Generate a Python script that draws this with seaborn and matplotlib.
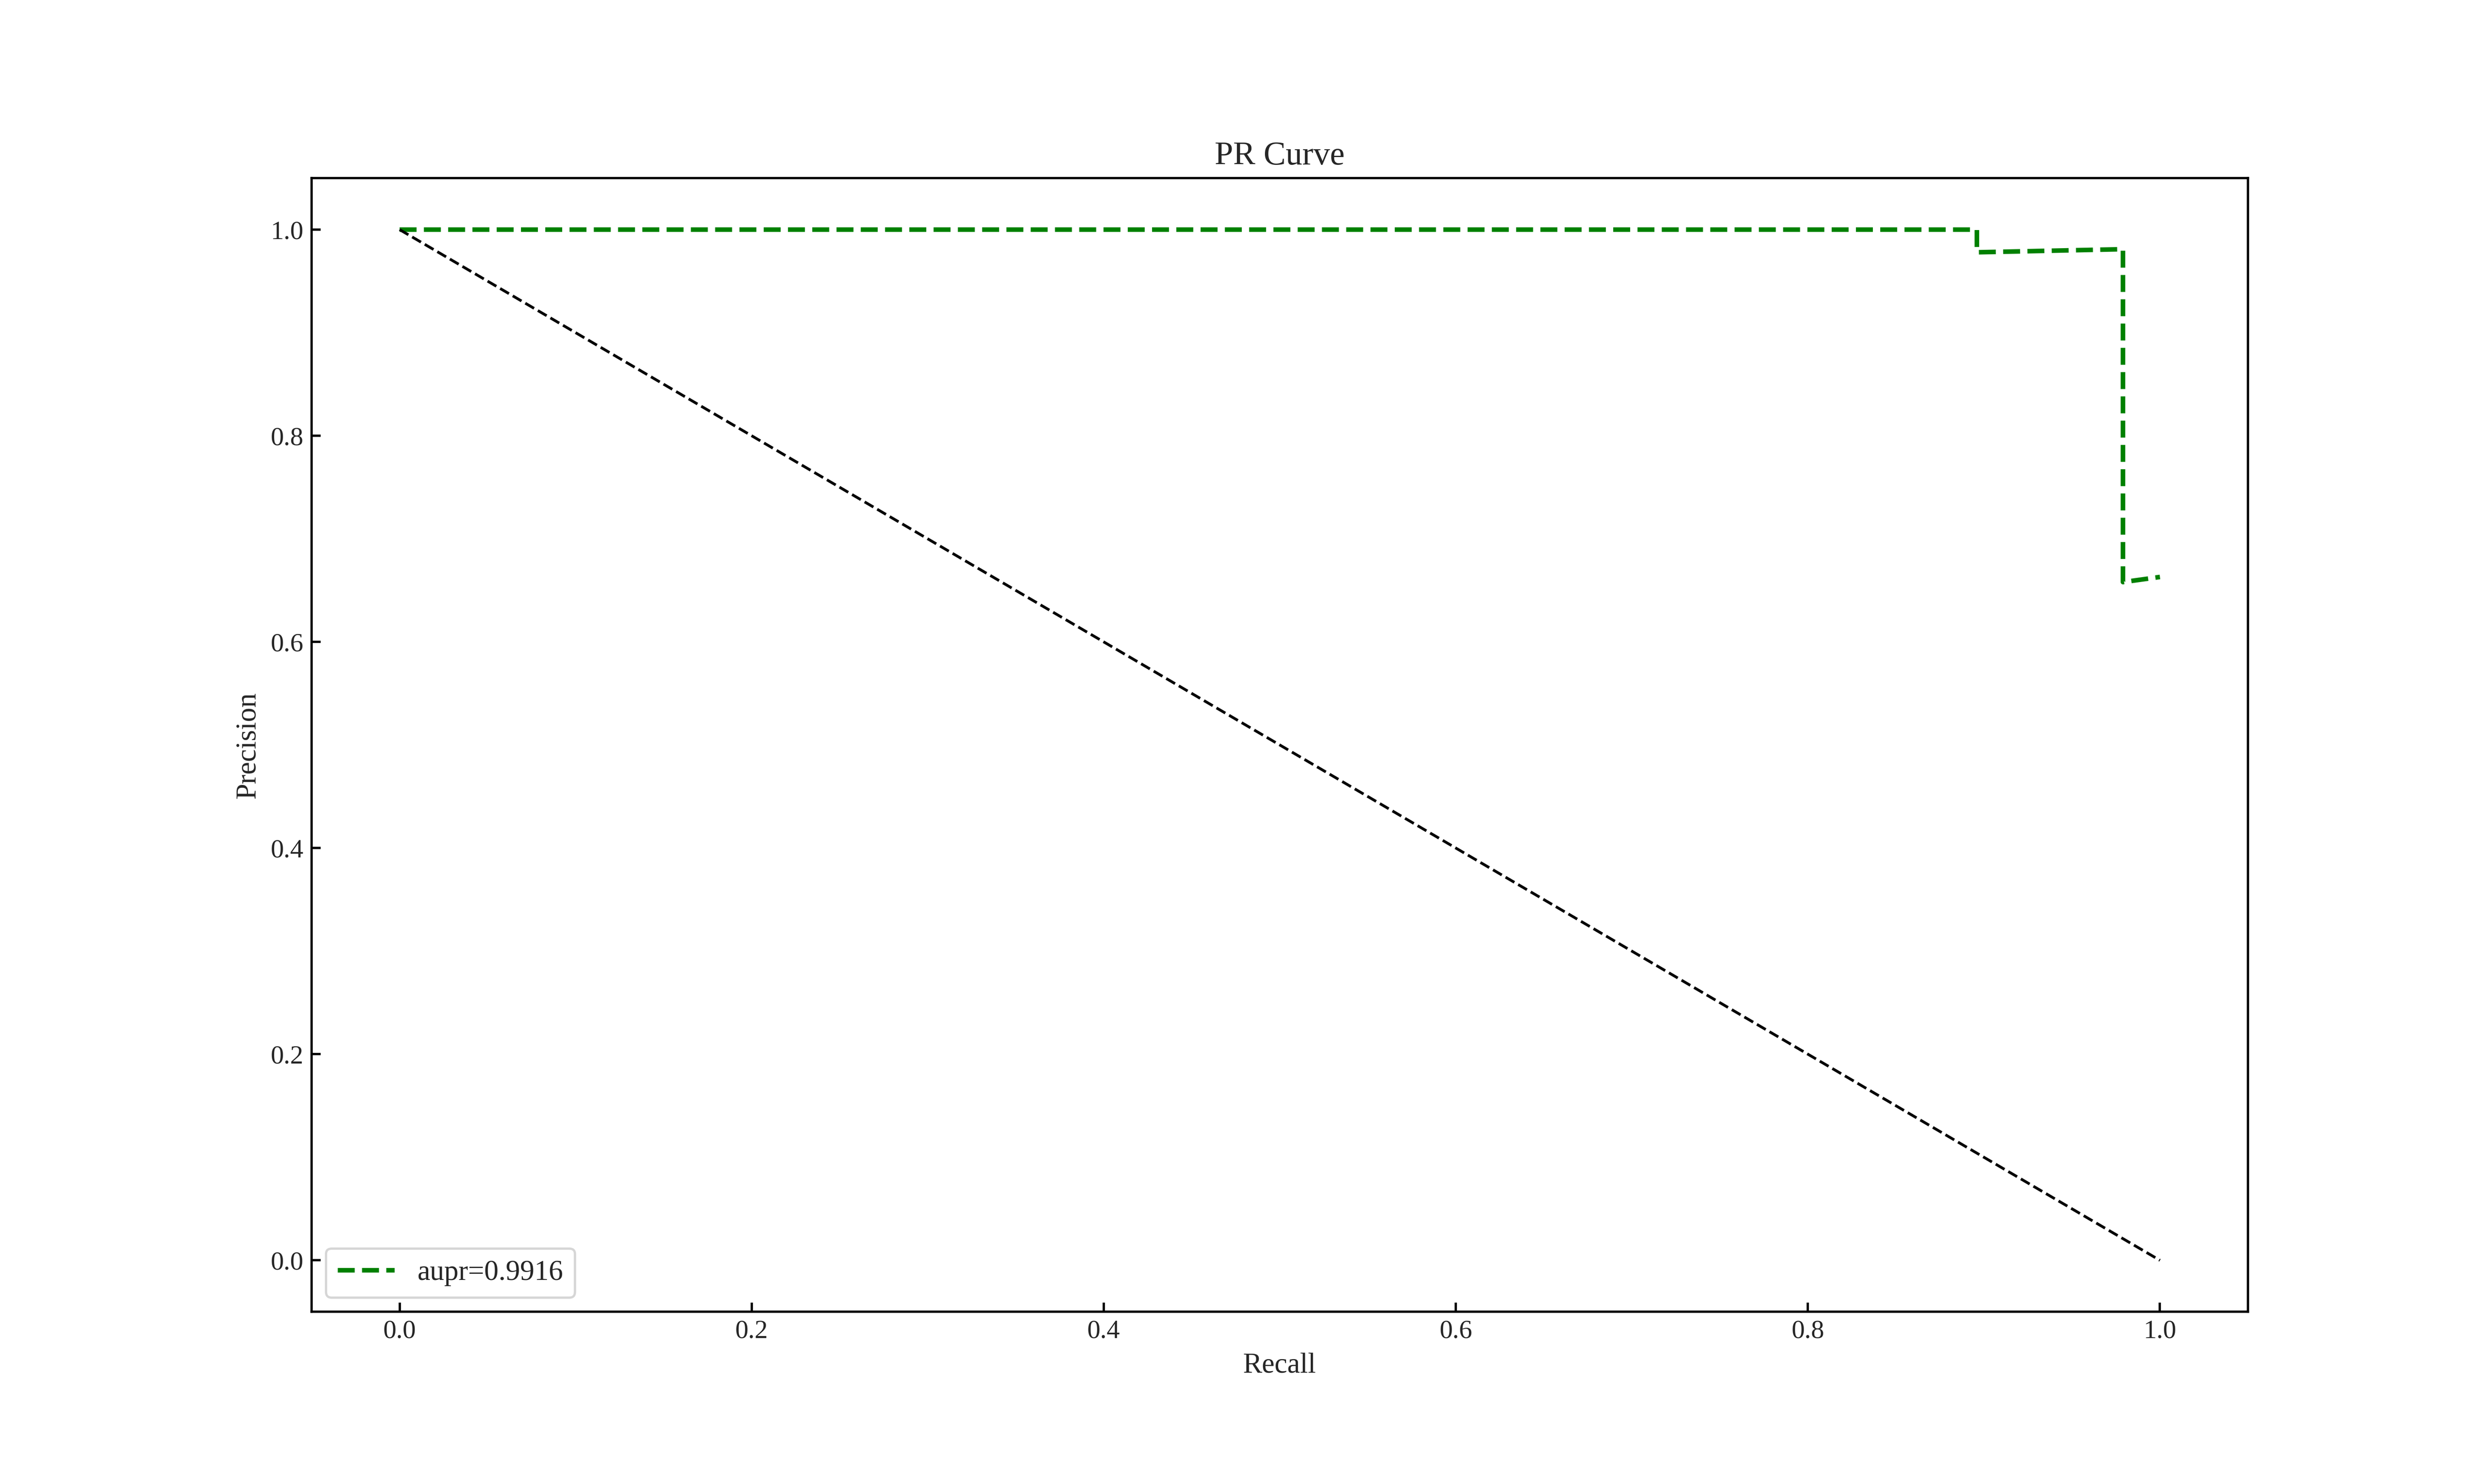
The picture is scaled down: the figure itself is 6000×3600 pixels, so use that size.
import matplotlib
matplotlib.use("Agg")
import matplotlib.pyplot as plt
import seaborn as sns
import pandas as pd

recall = [0.0, 0.896, 0.896, 0.979, 0.979, 1.0]
precision = [1.0, 1.0, 0.978, 0.981, 0.658, 0.663]
diag_x = [0.0, 1.0]
diag_y = [1.0, 0.0]
label = "aupr=0.9916"

sns.set_theme(style="white")
plt.rcParams['font.family'] = ['Liberation Serif', 'DejaVu Serif']
plt.rcParams['xtick.direction'] = 'in'
plt.rcParams['ytick.direction'] = 'in'

fig, ax = plt.subplots(figsize=(15, 9), dpi=400)
fig.subplots_adjust(left=0.126, right=0.909, bottom=0.116, top=0.88)
df = pd.DataFrame({"r": recall, "p": precision})
sns.lineplot(data=df, x="r", y="p", ax=ax, sort=False, color="green",
             linestyle="--", linewidth=2, label=label, estimator=None)
sns.lineplot(x=diag_x, y=diag_y, ax=ax, color="black", linestyle="--", linewidth=1.2)
for s in ax.spines.values():
    s.set_color("black")
    s.set_linewidth(1)
ax.tick_params(axis='both', which='both', length=4, width=1, color='black',
               bottom=True, left=True, labelsize=11.5)
ax.set_title("PR Curve", fontsize=14.5)
ax.set_xlabel("Recall", fontsize=12.5)
ax.set_ylabel("Precision", fontsize=12.5)
ax.legend(loc="lower left", fontsize=12.5)
fig.savefig("out.png")
